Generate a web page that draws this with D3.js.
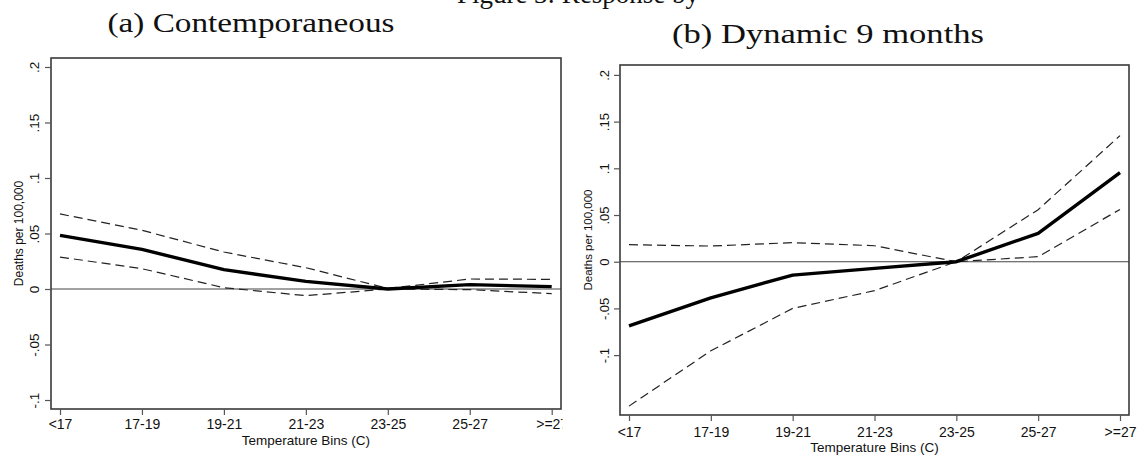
<!DOCTYPE html>
<html>
<head>
<meta charset="utf-8">
<script src="https://cdn.jsdelivr.net/npm/d3@7"></script>
<style>
    html, body { margin: 0; padding: 0; background: #fff; }
    svg { display: block; }
    .tick-label { font-family: "Liberation Sans", Arial, sans-serif; fill: #111; }
    .panel-title { font-family: "Liberation Serif", "DejaVu Serif", serif; fill: #111; }
</style>
</head>
<body>
<svg id="chart" width="1140" height="460"></svg>
<script>
// Temperature bins shared by both panels
const bins = ['<17', '17-19', '19-21', '21-23', '23-25', '25-27', '>=27'];
const yTicks = [-0.1, -0.05, 0, 0.05, 0.1, 0.15, 0.2];
const yTickLabels = ['-.1', '-.05', '0', '.05', '.1', '.15', '.2'];

// (a) Contemporaneous
const contempEst   = [0.0483, 0.0357, 0.0174, 0.0069, 0.0, 0.0039, 0.0021];
const contempUpper = [0.0676, 0.0529, 0.0333, 0.0192, 0.0005, 0.0090, 0.0087];
const contempLower = [0.0288, 0.0183, 0.0012, -0.0060, 0.0, -0.0006, -0.0042];

// (b) Dynamic 9 months
const dynamicEst   = [-0.0686, -0.0386, -0.0143, -0.0071, 0.0, 0.0304, 0.0954];
const dynamicUpper = [0.0182, 0.0168, 0.0204, 0.0171, 0.0, 0.0557, 0.1350];
const dynamicLower = [-0.1546, -0.0954, -0.0500, -0.0310, 0.0, 0.0054, 0.0560];

const svg = d3.select('#chart');

// caption of the page above, cut off by the top edge
svg.append('text')
    .attr('class', 'panel-title')
    .attr('x', 578)
    .attr('y', 3)
    .attr('text-anchor', 'middle')
    .style('font-size', '27px')
    .text('Figure 3: Response by');

function drawPanel(opts) {
    const g = svg.append('g');
    if (opts.clip) {
        svg.append('clipPath').attr('id', opts.id + '-clip')
            .append('rect').attr('x', 0).attr('y', 0)
            .attr('width', opts.clip).attr('height', 460);
        g.attr('clip-path', `url(#${opts.id}-clip)`);
    }

    const x = d3.scalePoint().domain(bins).range([opts.x0, opts.x1]);
    const y = d3.scaleLinear().domain(opts.yDomain).range([opts.bottom, opts.top]);

    // title
    g.append('text')
        .attr('class', 'panel-title')
        .attr('x', opts.titleX)
        .attr('y', opts.titleY)
        .attr('text-anchor', 'middle')
        .attr('textLength', opts.titleW)
        .attr('lengthAdjust', 'spacingAndGlyphs')
        .style('font-size', '28px')
        .text(opts.title);

    // zero line
    g.append('line')
        .attr('x1', opts.left).attr('x2', opts.right)
        .attr('y1', y(0)).attr('y2', y(0))
        .attr('stroke', '#444').attr('stroke-width', 1.1);

    const line = d3.line()
        .x((d, i) => x(bins[i]))
        .y(d => y(d));

    // confidence bands
    [opts.upper, opts.lower].forEach(series => {
        g.append('path')
            .datum(series)
            .attr('fill', 'none')
            .attr('stroke', '#222')
            .attr('stroke-width', 1.2)
            .attr('stroke-dasharray', '9,5')
            .attr('d', line);
    });

    // point estimate
    g.append('path')
        .datum(opts.est)
        .attr('fill', 'none')
        .attr('stroke', '#000')
        .attr('stroke-width', 3.4)
        .attr('stroke-linejoin', 'round')
        .attr('d', line);

    // frame
    g.append('rect')
        .attr('x', opts.left).attr('y', opts.top)
        .attr('width', opts.right - opts.left)
        .attr('height', opts.bottom - opts.top)
        .attr('fill', 'none')
        .attr('stroke', '#3a3a3a')
        .attr('stroke-width', 1.6);

    // x axis
    const xAxis = g.append('g')
        .attr('transform', `translate(0,${opts.bottom})`)
        .call(d3.axisBottom(x).tickSize(6).tickPadding(3));
    xAxis.select('.domain').remove();
    xAxis.selectAll('.tick line').attr('stroke', '#555').attr('stroke-width', 1.2);
    xAxis.selectAll('.tick text')
        .attr('class', 'tick-label')
        .attr('dy', null)
        .attr('y', opts.xLabelY - opts.bottom)
        .style('font-size', '14px');

    g.append('text')
        .attr('class', 'tick-label')
        .attr('x', (opts.x0 + opts.x1) / 2)
        .attr('y', opts.xTitleY)
        .attr('text-anchor', 'middle')
        .style('font-size', '13.5px')
        .text('Temperature Bins (C)');

    // y axis
    const yAxis = g.append('g')
        .attr('transform', `translate(${opts.left},0)`)
        .call(d3.axisLeft(y).tickValues(yTicks)
            .tickFormat((d, i) => yTickLabels[i]).tickSize(6));
    yAxis.select('.domain').remove();
    yAxis.selectAll('.tick line').attr('stroke', '#555').attr('stroke-width', 1.2);
    yAxis.selectAll('.tick text')
        .attr('class', 'tick-label')
        .attr('x', null).attr('dy', null)
        .attr('text-anchor', 'middle')
        .attr('transform', `translate(${opts.yLabelX - opts.left},0) rotate(-90)`)
        .style('font-size', opts.yFont + 'px');

    g.append('text')
        .attr('class', 'tick-label')
        .attr('transform', `translate(${opts.yTitleX},${(opts.top + opts.bottom) / 2}) rotate(-90)`)
        .attr('text-anchor', 'middle')
        .style('font-size', opts.yTitleFont + 'px')
        .text('Deaths per 100,000');
}

drawPanel({
    id: 'contemp',
    clip: 562.5,
    title: '(a) Contemporaneous',
    titleX: 251, titleY: 32, titleW: 287,
    left: 51, right: 561, top: 58, bottom: 409,
    x0: 60, x1: 551.7,
    yDomain: [-0.1081, 0.2081],
    xLabelY: 429, xTitleY: 445,
    yLabelX: 39, yFont: 13.5,
    yTitleX: 23, yTitleFont: 12,
    est: contempEst, upper: contempUpper, lower: contempLower
});

drawPanel({
    id: 'dynamic',
    title: '(b) Dynamic 9 months',
    titleX: 828, titleY: 43, titleW: 312,
    left: 620, right: 1129, top: 65, bottom: 415,
    x0: 629, x1: 1120,
    yDomain: [-0.1641, 0.2106],
    xLabelY: 437, xTitleY: 452,
    yLabelX: 609, yFont: 13,
    yTitleX: 592, yTitleFont: 11.5,
    est: dynamicEst, upper: dynamicUpper, lower: dynamicLower
});
</script>
</body>
</html>
